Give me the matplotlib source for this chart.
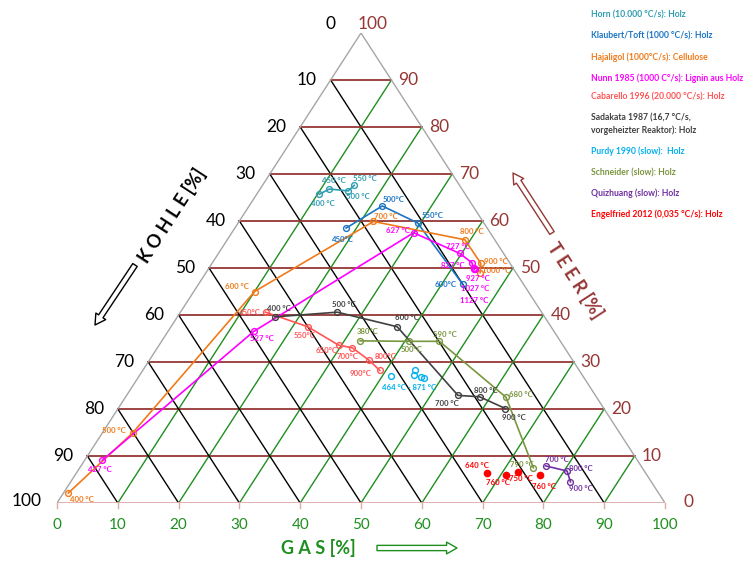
import matplotlib
matplotlib.use("Agg")
import matplotlib.pyplot as plt
from matplotlib.patches import FancyArrowPatch, ArrowStyle

plt.rcParams['font.family'] = ['Lato', 'DejaVu Sans']

W, H = 745, 561

# ---------------- data (gas %, teer %; kohle = 100 - gas - teer) ----------------
horn_gas = [10.3, 11.4, 14.7, 15.1]
horn_teer = [65.7, 66.8, 66.4, 67.6]
horn_temp = ["400 °C", "450 °C", "500 °C", "550 °C"]

klaubert_gas = [18.3, 21.9, 29.5, 43.4]
klaubert_teer = [58.5, 63.2, 59.6, 46.6]
klaubert_temp = ["450°C", "500°C", "550°C", "600°C"]

hajaligol_gas = [0.8, 5.0, 10.0, 22.1, 39.1, 44.2, 45.1]
hajaligol_teer = [2.1, 15.0, 45.0, 59.9, 56.0, 51.0, 49.0]
hajaligol_temp = ["400 °C", "500 °C", "600 °C", "700 °C", "800 °C", "900 °C", "1000 °C"]

nunn_gas = [2.9, 14.1, 29.9, 39.7, 42.7, 43.6, 43.8, 43.8]
nunn_teer = [9.1, 36.5, 57.5, 53.1, 51.1, 49.9, 49.8, 49.7]
nunn_temp = ["427 °C", "527 °C", "627 °C", "727 °C", "827 °C", "927 °C", "1027 °C", "1127 °C"]

cabarello_gas = [14.0, 22.5, 29.5, 32.1, 36.1, 39.0]
cabarello_teer = [40.6, 37.5, 33.6, 33.0, 30.4, 28.2]
cabarello_temp = ["450°C", "550°C", "650°C", "700°C", "800°C", "900°C"]

sadakata_gas = [16.0, 25.8, 37.2, 54.5, 58.2, 63.7]
sadakata_teer = [39.6, 40.6, 37.5, 22.9, 22.6, 20.1]
sadakata_temp = ["400 °C", "500 °C", "600 °C", "700 °C", "800 °C", "900 °C"]

purdy_gas = [41.4, 44.8, 45.1, 46.5, 47.0]
purdy_teer = [27.0, 28.2, 27.2, 26.8, 26.6]
purdy_label = "464 °C - 871 °C"

schneider_gas = [32.6, 40.7, 45.7, 62.6, 74.6]
schneider_teer = [34.5, 34.4, 34.4, 22.5, 7.5]
schneider_temp = ["380°C", "500°C", "590 °C", "680 °C", "790 °C"]

quizhuang_gas = [76.4, 80.5, 82.2]
quizhuang_teer = [7.9, 6.8, 4.5]
quizhuang_temp = ["700 °C", "800 °C", "900 °C"]

engelfried_gas = [67.5, 70.9, 72.6, 76.5]
engelfried_teer = [6.4, 6.0, 6.5, 5.9]
engelfried_temp = ["640 °C", "760 °C", "750 °C", "760 °C"]

ticks = [0, 10, 20, 30, 40, 50, 60, 70, 80, 90, 100]

legend_labels = [
    "Horn (10.000 °C/s): Holz",
    "Klaubert/Toft (1000 °C/s): Holz",
    "Hajaligol (1000°C/s): Cellulose",
    "Nunn 1985 (1000 C°/s): Lignin aus Holz",
    "Cabarello 1996 (20.000 °C/s): Holz",
    "Sadakata 1987 (16,7 °C/s,\nvorgeheizter Reaktor): Holz",
    "Purdy 1990 (slow):  Holz",
    "Schneider (slow): Holz",
    "Quizhuang (slow): Holz",
    "Engelfried 2012 (0,035 °C/s): Holz",
]

# ---------------- style ----------------
C_HORN = "#2E9DB0"
C_KLAU = "#1C74C4"
C_HAJA = "#F07A1A"
C_NUNN = "#FF00FF"
C_CABA = "#FF5555"
C_SADA = "#404040"
C_PURD = "#00B0F0"
C_SCHN = "#7A9640"
C_QUIZ = "#7030A0"
C_ENGE = "#FF0000"
C_GREEN = "#1F8F1F"
C_BROWN = "#953735"
C_EDGE = "#A6A6A6"
C_BASE = "#E0AAAA"

legend_colors = [C_HORN, C_KLAU, C_HAJA, C_NUNN, C_CABA, C_SADA, C_PURD, C_SCHN, C_QUIZ, C_ENGE]
legend_y = [15, 36, 57, 78, 97, 124, 151, 173, 193, 214]

fig = plt.figure(figsize=(W / 100, H / 100), dpi=100)
x0, y0, TW, TH = 57, 503, 608, 470
ax = fig.add_axes([x0 / W, (H - y0) / H, TW / W, TH / H])
ax.set_xlim(0, 100)
ax.set_ylim(0, 100)
ax.axis("off")


def tx(g, t):
    return [gi + ti / 2 for gi, ti in zip(g, t)], list(t)


# grid lines
for v in ticks[1:-1]:
    # constant teer (horizontal)
    gx, gy = tx([0, 100 - v], [v, v])
    ax.plot(gx, gy, color=C_BROWN, lw=1.3, zorder=1)
    # constant gas (green)
    gx, gy = tx([v, v], [0, 100 - v])
    ax.plot(gx, gy, color=C_GREEN, lw=1.0, zorder=1)
    # constant kohle (black)
    gx, gy = tx([0, 100 - v], [100 - v, 0])
    ax.plot(gx, gy, color="black", lw=1.0, zorder=1)
# edges
ex, ey = tx([0, 0], [0, 100])
ax.plot(ex, ey, color=C_EDGE, lw=1.0, zorder=1)
ex, ey = tx([100, 0], [0, 100])
ax.plot(ex, ey, color=C_EDGE, lw=1.0, zorder=1)
ax.plot([0, 100], [0, 0], color=C_BASE, lw=1.3, zorder=1)
for v in ticks:
    ax.annotate("", xy=(v, 0), xytext=(v, -0.0001))
    ax.plot([v, v], [0, -1.1], color=C_BASE, lw=1.0, clip_on=False, zorder=1)

# tick labels
for v in ticks:
    # gas (bottom)
    ax.annotate(str(v), xy=(v, 0), xytext=(0, -22), textcoords="offset pixels",
                ha="center", va="center", color=C_GREEN, fontsize=11, annotation_clip=False)
    # kohle (left edge, kohle = v at teer = 100 - v)
    px, py = tx([0], [100 - v])
    if v == 0:
        off = (-31, 9)
    elif v == 100:
        off = (-30, 2)
    else:
        off = (-24, 0)
    ax.annotate(str(v), xy=(px[0], py[0]), xytext=off, textcoords="offset pixels",
                ha="center", va="center", color="black", fontsize=12.5, annotation_clip=False)
    # teer (right edge)
    px, py = tx([100 - v], [v])
    if v == 100:
        off = (12, 9)
    elif v == 0:
        off = (24, 1)
    else:
        off = (17, 0)
    ax.annotate(str(v), xy=(px[0], py[0]), xytext=off, textcoords="offset pixels",
                ha="center", va="center", color=C_BROWN, fontsize=12.5, annotation_clip=False)


def series(g, t, temps, color, offsets, line=True, filled=False):
    X, Y = tx(g, t)
    if line:
        ax.plot(X, Y, color=color, lw=1.2, zorder=3)
    ax.plot(X, Y, ls="none", marker="o", ms=4.2 if not filled else 4.5,
            mfc=color if filled else "none", mec=color, mew=1.0, zorder=4)
    for xi, yi, lab, off in zip(X, Y, temps, offsets):
        ax.annotate(lab, xy=(xi, yi), xytext=(off[0], -off[1]), textcoords="offset pixels",
                    ha="center", va="center", color=color, fontsize=5.6, fontweight="bold",
                    zorder=5, annotation_clip=False)


series(horn_gas, horn_teer, horn_temp, C_HORN, [(4, 9), (4, -9), (10, 6), (11, -7)])
series(klaubert_gas, klaubert_teer, klaubert_temp, C_KLAU, [(-3, 11), (11, -6), (15, -7), (-17, 1)])
series(hajaligol_gas, hajaligol_teer, hajaligol_temp, C_HAJA,
       [(14, 6), (-19, -2), (-18, -5), (12, -5), (7, -8), (15, -2), (16, -2)])
series(nunn_gas, nunn_teer, nunn_temp, C_NUNN,
       [(-2, 9), (8, 7), (-16, -2), (-2, -7), (-19, 3), (4, 10), (0, 20), (0, 31)])
series(cabarello_gas, cabarello_teer, cabarello_temp, C_CABA,
       [(-16, 0), (-3, 9), (-12, 5), (-5, 9), (17, -4), (-19, 3)])
series(sadakata_gas, sadakata_teer, sadakata_temp, C_SADA,
       [(4, -8), (7, -8), (10, -9), (-11, 8), (6, -6), (8, 9)])
series(schneider_gas, schneider_teer, schneider_temp, C_SCHN,
       [(8, -9), (3, 8), (5, -7), (15, -3), (-11, -3)])
series(quizhuang_gas, quizhuang_teer, quizhuang_temp, C_QUIZ,
       [(11, -6), (14, -3), (10, 7)])
series(engelfried_gas, engelfried_teer, engelfried_temp, C_ENGE,
       [(-10, -7), (-8, 8), (3, 6), (4, 11)], line=False, filled=True)
series(purdy_gas, purdy_teer, [purdy_label] + [""] * 4, C_PURD,
       [(18, 11), (0, 0), (0, 0), (0, 0), (0, 0)], line=False)


# ---------------- legend ----------------
def fpx(x, y):
    return (x / W, 1 - y / H)


for lab, col, y in zip(legend_labels, legend_colors, legend_y):
    fig.text(*fpx(591, y), lab, color=col, fontsize=6.2, fontweight="bold",
             ha="left", va="center", linespacing=1.45)

# ---------------- axis titles and arrows ----------------
fig.text(*fpx(172, 216), "K O H L E [%]", rotation=57, rotation_mode="anchor",
         ha="center", va="center", fontsize=13, fontweight="bold", color="black")
fig.text(*fpx(575, 280), "T E E R [%]", rotation=-57, rotation_mode="anchor",
         ha="center", va="center", fontsize=13, fontweight="bold", color=C_BROWN)
fig.text(*fpx(318, 548), "G A S [%]", ha="center", va="center",
         fontsize=13, fontweight="bold", color=C_GREEN)

style = ArrowStyle.Simple(head_length=0.75, head_width=0.85, tail_width=0.38)
for a, b, col in [((135, 265), (95, 325), "black"),
                  ((552, 233), (513, 173), C_BROWN),
                  ((377, 548), (457, 548), C_GREEN)]:
    arr = FancyArrowPatch(fpx(*a), fpx(*b), transform=fig.transFigure,
                          arrowstyle=style, mutation_scale=10,
                          fc="white", ec=col, lw=1.0, shrinkA=0, shrinkB=0)
    fig.add_artist(arr)

fig.savefig("out.png", dpi=100)
